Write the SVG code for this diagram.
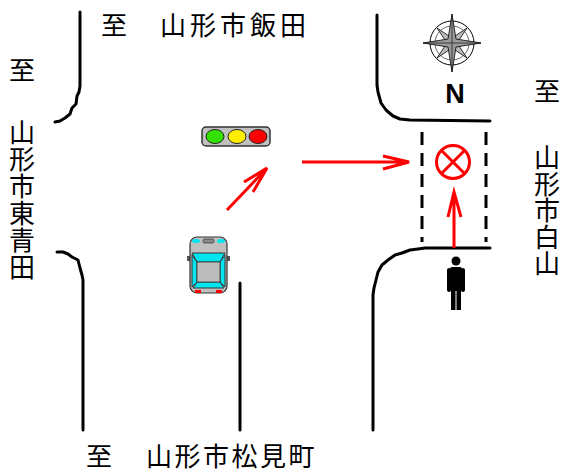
<svg xmlns="http://www.w3.org/2000/svg" width="562" height="472" viewBox="0 0 562 472">
<style>
.road{fill:none;stroke:#000;stroke-width:3;stroke-linejoin:round;stroke-linecap:round}
.lbl{font-family:"Noto Sans CJK JP","Noto Sans CJK SC",sans-serif;font-size:26px;fill:#000}
.vl{text-anchor:middle}
.arr{fill:none;stroke:#f00;stroke-width:3;stroke-linecap:butt}
.dash{stroke:#000;stroke-width:3;stroke-dasharray:13 8}
</style>
<rect width="562" height="472" fill="#fff"/>
<g id="roads">
<path class="road" d="M80,12 L80,86 L79,92 L77,96 L76,104 L72,108 L70,114 L65,118 L60,121 L55,122"/>
<path class="road" d="M57,252 L63,252 L68,254 L72,257 L78,260 L80,268 L82,275 L83,280 L83,430"/>
<path class="road" d="M377,15 L377,85 L378,92 L381,103 L386,110 L393,116 L400,119 L410,120 L490,121"/>
<path class="road" d="M490,248 L425,248 L418,249 L410,250 L402,253 L395,255 L388,260 L382,265 L378,272 L376,280 L374,288 L373,295 L373,430"/>
<path class="road" d="M240,283 L240,430"/>
</g>
<g id="crossing">
<line class="dash" x1="422" y1="132" x2="422" y2="242"/>
<line class="dash" x1="486" y1="132" x2="486" y2="242"/>
</g>
<g id="compass">
<circle cx="452" cy="43" r="22" fill="#fff" stroke="#000" stroke-width="1"/>
<circle cx="452" cy="43" r="17" fill="none" stroke="#000" stroke-width="0.6"/>
<polygon points="467,28 455,46 437,58 449,40" fill="#bbb" stroke="#000" stroke-width="0.8"/>
<polygon points="437,28 449,46 467,58 455,40" fill="#bbb" stroke="#000" stroke-width="0.8"/>
<polygon points="452,14 456,39 481,43 456,47 452,72 448,47 423,43 448,39" fill="#999" stroke="#000" stroke-width="0.8"/>
<path d="M452,14 L452,72 M423,43 L481,43" stroke="#000" stroke-width="0.6"/>
</g>
<g id="north">
<text x="455" y="103" text-anchor="middle" font-family="Liberation Sans,Arial,sans-serif" font-weight="bold" font-size="27">N</text>
</g>
<g id="traffic-light">
<rect x="202" y="127" width="68" height="19" rx="4" fill="#c0c0c0" stroke="#333" stroke-width="1.5"/>
<ellipse cx="215" cy="136.5" rx="9" ry="7" fill="#33e000" stroke="#222" stroke-width="1"/>
<ellipse cx="237" cy="136.5" rx="9" ry="7" fill="#ffee00" stroke="#222" stroke-width="1"/>
<ellipse cx="258" cy="136.5" rx="9" ry="7" fill="#f00" stroke="#222" stroke-width="1"/>
</g>
<g id="car">
<rect x="187" y="256" width="4" height="5" fill="#555"/>
<rect x="226" y="256" width="4" height="5" fill="#555"/>
<rect x="190" y="237" width="37" height="56" rx="7" fill="#c0c0c0" stroke="#333" stroke-width="1.2"/>
<ellipse cx="196" cy="241" rx="4" ry="2" fill="#00e5ee"/>
<ellipse cx="221" cy="241" rx="4" ry="2" fill="#00e5ee"/>
<rect x="203" y="239" width="11" height="4" rx="1.5" fill="#888" stroke="#333" stroke-width="0.7"/>
<polygon points="192,253 225,253 220,262 197,262" fill="#00e5ee" stroke="#333" stroke-width="1"/>
<polygon points="192,255 197,262 197,282 192,287" fill="#00e5ee" stroke="#333" stroke-width="1"/>
<polygon points="225,255 220,262 220,282 225,287" fill="#00e5ee" stroke="#333" stroke-width="1"/>
<polygon points="197,282 220,282 224,288 193,288" fill="#00e5ee" stroke="#333" stroke-width="1"/>
<rect x="197" y="262" width="23" height="20" fill="#bcbcbc" stroke="#333" stroke-width="0.8"/>
<rect x="195" y="290" width="6" height="3" fill="#f00"/>
<rect x="216" y="290" width="6" height="3" fill="#f00"/>
</g>
<g id="no-entry">
<circle cx="453" cy="162" r="16.5" fill="none" stroke="#f00" stroke-width="3"/>
<path d="M441.5,150.5 L464.5,173.5 M464.5,150.5 L441.5,173.5" stroke="#f00" stroke-width="3"/>
</g>
<g id="pedestrian" fill="#000">
<circle cx="456" cy="261" r="4.5"/>
<rect x="450" y="267" width="12" height="24" rx="2"/>
<rect x="447" y="268" width="4" height="24" rx="2"/>
<rect x="461" y="268" width="4" height="24" rx="2"/>
<rect x="451" y="289" width="4.5" height="21"/>
<rect x="456.5" y="289" width="4.5" height="21"/>
</g>
<g id="connectors">
<path class="arr" d="M227,210 L267,168 M244,182 L267,168 L253,192"/>
<path class="arr" d="M302,162 L409,162 M383,156 L409,162 L383,169"/>
<path class="arr" d="M454,248 L454,192 M448,217 L454,192 L461,217"/>
</g>
<g id="labels">
<text class="lbl" x="101" y="35">至</text>
<text class="lbl" x="160" y="35" letter-spacing="4">山形市飯田</text>
<text class="lbl" x="86" y="466">至</text>
<text class="lbl" x="146" y="466" letter-spacing="2.5">山形市松見町</text>
<text class="lbl vl" x="22" y="80">至</text>
<text class="lbl vl" x="22" y="142">山</text>
<text class="lbl vl" x="22" y="169">形</text>
<text class="lbl vl" x="22" y="196">市</text>
<text class="lbl vl" x="22" y="223">東</text>
<text class="lbl vl" x="22" y="250">青</text>
<text class="lbl vl" x="22" y="277">田</text>
<text class="lbl vl" x="547" y="101">至</text>
<text class="lbl vl" x="547" y="167">山</text>
<text class="lbl vl" x="547" y="193.5">形</text>
<text class="lbl vl" x="547" y="220">市</text>
<text class="lbl vl" x="547" y="246.5">白</text>
<text class="lbl vl" x="547" y="273">山</text>
</g>
</svg>
